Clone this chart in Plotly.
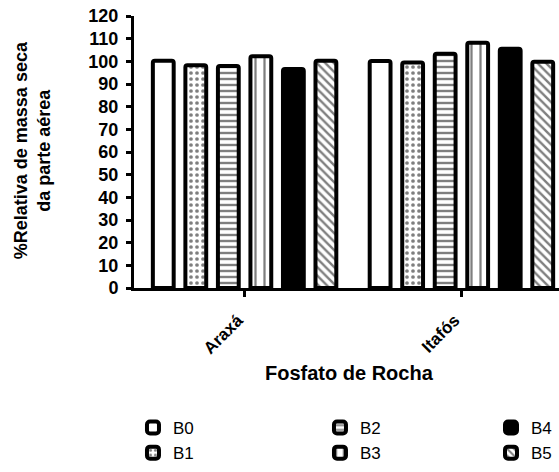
import plotly.graph_objects as go

categories = ["Araxá", "Itafós"]
series_names = ["B0", "B1", "B2", "B3", "B4", "B5"]
b0 = [100.3, 100.2]
b1 = [98.3, 99.5]
b2 = [97.9, 103.3]
b3 = [102.2, 108.2]
b4 = [96.6, 105.6]
b5 = [100.3, 99.8]
values = [b0, b1, b2, b3, b4, b5]

y_ticks = list(range(0, 121, 10))

styles = [
    dict(color="white", pattern=None),
    dict(color="white", pattern=dict(shape=".", fgcolor="black", bgcolor="white", size=6, solidity=0.3)),
    dict(color="white", pattern=dict(shape="-", fgcolor="black", bgcolor="white", size=6, solidity=0.4)),
    dict(color="white", pattern=dict(shape="|", fgcolor="black", bgcolor="white", size=9, solidity=0.25)),
    dict(color="black", pattern=None),
    dict(color="white", pattern=dict(shape="\\", fgcolor="black", bgcolor="white", size=6, solidity=0.4)),
]
legend_ids = ["legend", "legend", "legend2", "legend2", "legend3", "legend3"]

fig = go.Figure()
for name, vals, st, lg in zip(series_names, values, styles, legend_ids):
    marker = dict(color=st["color"], line=dict(color="black", width=4))
    if st["pattern"]:
        marker["pattern"] = st["pattern"]
    fig.add_trace(go.Bar(x=categories, y=vals, name=name, marker=marker,
                         legend=lg, legendgroup=name))

FONT = "Liberation Sans"
legend_common = dict(orientation="v", yanchor="top", xanchor="left",
                     font=dict(family=FONT, size=17, color="black"),
                     bgcolor="rgba(0,0,0,0)", tracegroupgap=0)

LY = -0.4485
fig.update_layout(
    width=559, height=472,
    margin=dict(l=134, r=0, t=16, b=184),
    paper_bgcolor="white", plot_bgcolor="white",
    bargap=0.1, bargroupgap=0.36,
    barcornerradius=2,
    font=dict(family=FONT, color="black"),
    legend=dict(x=-0.0024, y=LY, **legend_common),
    legend2=dict(x=0.4376, y=LY, **legend_common),
    legend3=dict(x=0.84, y=LY, **legend_common),
    xaxis=dict(range=[-0.51, 1.45], showline=True, linecolor="black", linewidth=3,
               tickvals=categories, ticktext=[c + "\u00a0\u00a0" for c in categories],
               ticks="outside", ticklen=6, tickwidth=3, tickcolor="black",
               tickangle=-45, showgrid=False, ticklabelstandoff=0, automargin=False,
               tickfont=dict(family=FONT, size=17, color="black", weight="bold")),
    yaxis=dict(range=[0, 120], tickvals=y_ticks, showline=True, linecolor="black",
               linewidth=3, ticks="outside", ticklen=5, tickwidth=3, tickcolor="black",
               showgrid=False, zeroline=False, ticklabelstandoff=4, automargin=False,
               tickfont=dict(family=FONT, size=18, color="black", weight="bold")),
    annotations=[
        dict(text="<b>Fosfato de Rocha</b>", xref="paper", yref="paper",
             x=0.508, y=-0.3125, xanchor="center", yanchor="middle", showarrow=False,
             font=dict(family=FONT, size=20, color="black")),
        dict(text="<b>%Relativa de massa seca<br>da parte aérea</b>", xref="paper", yref="paper",
             x=-0.2397, y=0.507, xanchor="center", yanchor="middle", showarrow=False,
             textangle=-90, font=dict(family=FONT, size=18, color="black")),
    ],
)

fig.write_html("out.html", config={"displayModeBar": False},
               post_script="document.body.style.margin='0';document.body.style.padding='0';")
